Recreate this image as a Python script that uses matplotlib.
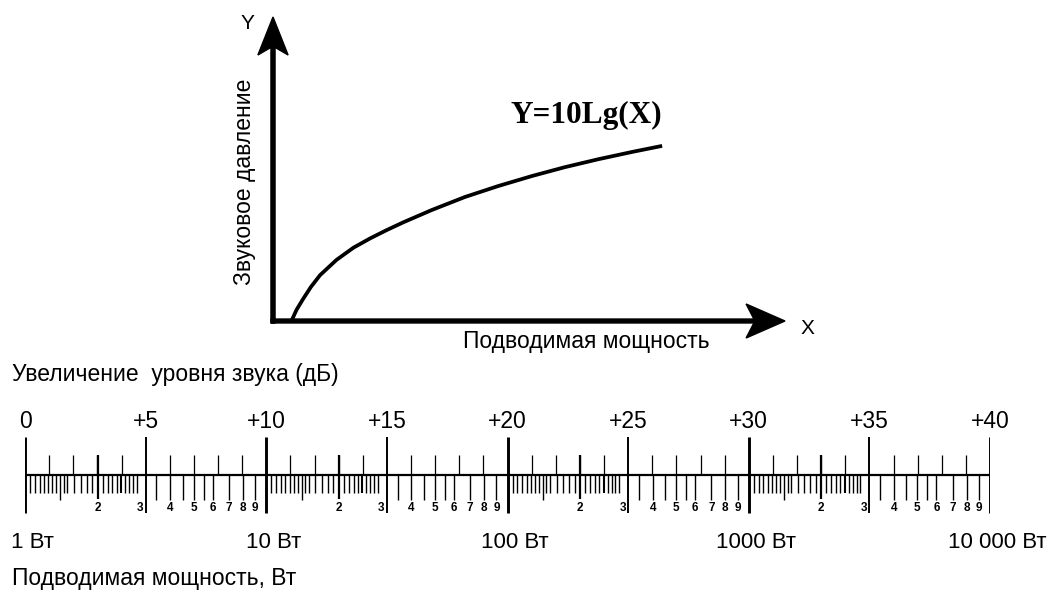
import numpy as np
import matplotlib
matplotlib.use("Agg")
from matplotlib import pyplot as plt

plt.rcParams['font.family'] = ['Liberation Sans', 'DejaVu Sans']

# curve (arbitrary units, 0..100 on both axes)
curve_x = [3.6, 4.6, 5.9, 7.4, 9.2, 12.4, 15.7, 19.0, 22.2, 25.5, 31.0, 37.5, 44.0, 50.6, 57.0, 63.5, 70.1, 76.0]
curve_y = [0.0, 3.7, 7.3, 11.2, 15.1, 20.1, 24.1, 27.2, 29.9, 32.5, 36.5, 40.8, 44.4, 47.7, 50.6, 53.2, 55.6, 57.6]

# scale: decibels on top, watts below
db_major = [0, 5, 10, 15, 20, 25, 30, 35, 40]
db_major_labels = ['0', '+5', '+10', '+15', '+20', '+25', '+30', '+35', '+40']
db_minor = [1, 2, 3, 4, 6, 7, 8, 9, 11, 12, 13, 14, 16, 17, 18, 19,
            21, 22, 23, 24, 26, 27, 28, 29, 31, 32, 33, 34, 36, 37, 38, 39]

decades = [1, 10, 100, 1000]
power_main = [1, 10, 100, 1000, 10000]
power_main_labels = ['1 Вт', '10 Вт', '100 Вт', '1000 Вт', '10 000 Вт']
mant_short = [1.05, 1.1, 1.15, 1.2, 1.25, 1.3, 1.35, 1.45, 1.5, 1.6, 1.7, 1.8, 1.9,
              2.1, 2.2, 2.3, 2.4, 2.6, 2.7, 2.8, 2.9]
mant_mid = [2.5]
mant_long = [1.4, 3.5, 4, 4.5, 5, 5.5, 6, 7, 8, 9]
mant_labeled = [2, 3, 4, 5, 6, 7, 8, 9]


def to_db(p):
    return 10 * np.log10(np.asarray(p, dtype=float))


fig = plt.figure(figsize=(10.5, 5.94), dpi=100)

# ---- upper sketch Y = 10 lg X ----
ax = fig.add_axes([273 / 1050, (594 - 321) / 594, 512 / 1050, 304 / 594])
ax.set_xlim(0, 100)
ax.set_ylim(0, 100)
ax.axis('off')

ax.arrow(0, -0.7, 0, 100.7, width=0.8, head_width=5.9, head_length=12.5,
         overhang=0.2, length_includes_head=True, color='k', clip_on=False)
ax.arrow(-0.4, 0, 100.4, 0, width=1.3, head_width=11.2, head_length=7.6,
         overhang=0.2, length_includes_head=True, color='k', clip_on=False)
ax.plot(curve_x, curve_y, color='k', lw=2.7, solid_capstyle='butt',
        solid_joinstyle='round', clip_on=False)

ax.text(-4.9, 98, 'Y', fontsize=15, ha='center', va='center')
ax.text(104.3, -2.6, 'X', fontsize=15, ha='center', va='center')
ax.text(-5.5, 45.7, 'Звуковое давление', fontsize=16.5, rotation=90,
        ha='center', va='center')
ax.text(61.1, -6.9, 'Подводимая мощность', fontsize=16.5, ha='center', va='center')
ax.text(46.3, 65.1, 'Y=10Lg(X)', fontsize=22.5, fontweight='bold', ha='left',
        va='baseline', family='Liberation Serif')

# ---- lower scale dB / W ----
bx = fig.add_axes([25 / 1050, 0, 965 / 1050, (594 - 355) / 594])
bx.set_xlim(0, 40)
bx.set_ylim(-119, 120)
bx.axis('off')

bx.hlines(0, 0, 40, color='k', lw=1.6)
bx.vlines(db_major[::2], -38, 38, color='k', lw=2.1)
bx.vlines(db_major[1::2], -38, 38, color='k', lw=1.4)
bx.vlines(db_minor, 0, 20, color='k', lw=0.9)

for d in decades:
    bx.vlines(to_db(np.array(mant_short) * d), -18, 0, color='k', lw=1.0)
    bx.vlines(to_db(np.array(mant_mid) * d), -18, 0, color='k', lw=1.5)
    bx.vlines(to_db(np.array(mant_long) * d), -25, 0, color='k', lw=1.0)
    bx.vlines(to_db(2 * d), -24, 20, color='k', lw=1.6)
    for m in mant_labeled:
        bx.text(to_db(m * d), -33, str(m), fontsize=8.5, fontweight='bold',
                ha='center', va='center')

for d, lab in zip(db_major, db_major_labels):
    bx.text(d, 53, lab, fontsize=16.5, ha='center', va='center')

for p, lab in zip(power_main, power_main_labels):
    bx.annotate(lab, (to_db(p), -67), xytext=(5, 0), textcoords='offset points',
                fontsize=16, ha='center', va='center')

bx.text(-0.54, 100, 'Увеличение  уровня звука (дБ)', fontsize=16.5, ha='left', va='center')
bx.text(-0.54, -103, 'Подводимая мощность, Вт', fontsize=16.5, ha='left', va='center')

fig.savefig('out.png', dpi=100)
